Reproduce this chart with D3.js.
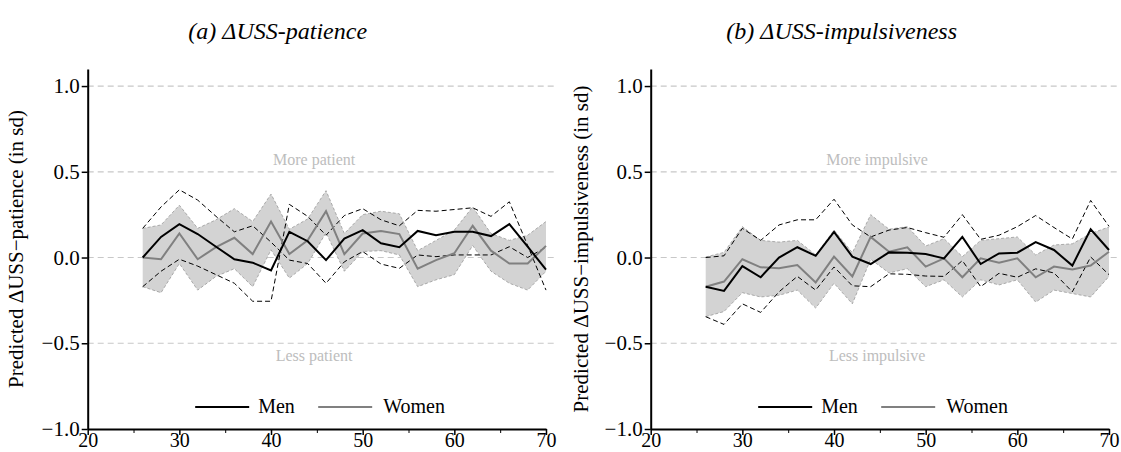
<!DOCTYPE html>
<html>
<head>
<meta charset="utf-8">
<script src="https://cdn.jsdelivr.net/npm/d3@7"></script>
<style>
  body { margin: 0; background: #fff; }
  svg text { font-family: "Liberation Serif", "DejaVu Serif", serif; }
</style>
</head>
<body>
<div id="plot"></div>
<script>
// values
const ages = [26, 28, 30, 32, 34, 36, 38, 40, 42, 44, 46, 48, 50, 52, 54, 56, 58, 60, 62, 64, 66, 68, 70];

// (a) patience
const patMen = [0.0, 0.12, 0.195, 0.137, 0.063, -0.01, -0.03, -0.075, 0.15, 0.095, -0.015, 0.11, 0.16, 0.083, 0.06, 0.155, 0.13, 0.15, 0.15, 0.125, 0.195, 0.063, -0.07];
// the two dashed bounds as they are drawn (they cross at 40-42 and 66-70)
const patMenCi1 = [0.17, 0.295, 0.395, 0.335, 0.24, 0.15, 0.185, 0.09, -0.015, -0.035, -0.15, -0.025, 0.035, -0.038, -0.063, 0.015, 0.005, 0.015, 0.015, 0.015, 0.063, 0.0, 0.06];
const patMenCi2 = [-0.17, -0.08, -0.01, -0.05, -0.1, -0.15, -0.255, -0.255, 0.31, 0.24, 0.13, 0.245, 0.285, 0.22, 0.185, 0.275, 0.27, 0.28, 0.29, 0.24, 0.325, 0.07, -0.19];
const patWomen = [0.0, -0.01, 0.14, -0.01, 0.06, 0.115, 0.02, 0.21, 0.02, 0.10, 0.27, 0.02, 0.14, 0.155, 0.137, -0.065, -0.015, 0.025, 0.185, 0.04, -0.035, -0.035, 0.068];
const patWomenHi = [0.17, 0.19, 0.305, 0.17, 0.22, 0.285, 0.21, 0.37, 0.165, 0.225, 0.39, 0.14, 0.25, 0.27, 0.255, 0.04, 0.10, 0.16, 0.295, 0.14, 0.10, 0.13, 0.21];
const patWomenLo = [-0.17, -0.205, -0.035, -0.19, -0.11, -0.065, -0.17, 0.045, -0.12, -0.035, 0.145, -0.08, 0.035, 0.04, 0.015, -0.17, -0.13, -0.10, 0.07, -0.08, -0.15, -0.19, -0.08];

// (b) impulsiveness
const impMen = [-0.17, -0.195, -0.05, -0.115, 0.0, 0.06, 0.01, 0.15, 0.005, -0.038, 0.03, 0.028, 0.02, -0.005, 0.12, -0.038, 0.024, 0.028, 0.09, 0.044, -0.047, 0.165, 0.044];
const impMenCi1 = [0.0, 0.01, 0.17, 0.10, 0.19, 0.22, 0.22, 0.34, 0.19, 0.12, 0.16, 0.175, 0.145, 0.118, 0.25, 0.106, 0.13, 0.18, 0.245, 0.175, 0.108, 0.333, 0.182];
const impMenCi2 = [-0.345, -0.39, -0.27, -0.32, -0.2, -0.11, -0.19, -0.055, -0.165, -0.17, -0.095, -0.098, -0.108, -0.11, -0.018, -0.17, -0.092, -0.115, -0.066, -0.09, -0.2, 0.003, -0.1];
const impWomen = [-0.17, -0.14, -0.01, -0.057, -0.063, -0.044, -0.145, 0.005, -0.11, 0.12, 0.034, 0.06, -0.053, -0.005, -0.115, -0.005, -0.03, -0.005, -0.115, -0.053, -0.07, -0.047, 0.034];
const impWomenHi = [0.003, 0.03, 0.18, 0.10, 0.09, 0.10, 0.015, 0.16, 0.028, 0.25, 0.165, 0.18, 0.067, 0.11, 0.005, 0.10, 0.11, 0.12, 0.015, 0.073, 0.08, 0.14, 0.178];
const impWomenLo = [-0.345, -0.315, -0.205, -0.23, -0.22, -0.19, -0.295, -0.15, -0.27, -0.01, -0.09, -0.065, -0.17, -0.13, -0.23, -0.13, -0.16, -0.13, -0.26, -0.19, -0.21, -0.23, -0.11];

const xTicks = [20, 30, 40, 50, 60, 70];
const xMinor = [25, 35, 45, 55, 65];
const yTicks = [-1.0, -0.5, 0.0, 0.5, 1.0];
const gridVals = [-0.5, 0.0, 0.5, 1.0];

const width = 1121, height = 452;

const svg = d3.select("#plot")
  .append("svg")
    .attr("width", width)
    .attr("height", height);

function drawPanel(left, p) {
  const x = d3.scaleLinear().domain([20, 70]).range([left, left + 458.3]);
  const y = d3.scaleLinear().domain([-1, 1.1]).range([429, 68.9]);
  const g = svg.append("g");

  // title
  g.append("text")
    .attr("x", left + p.titleDx)
    .attr("y", 39)
    .attr("text-anchor", "middle")
    .style("font-size", "24px")
    .style("font-style", "italic")
    .text(p.title);

  // gray dashed reference lines
  g.selectAll(".grid")
    .data(gridVals)
    .enter().append("line")
      .attr("x1", x(20)).attr("x2", x(71))
      .attr("y1", d => y(d)).attr("y2", d => y(d))
      .attr("stroke", "#c8c8c8")
      .attr("stroke-width", 1.2)
      .attr("stroke-dasharray", "6,4");

  g.append("text")
    .attr("x", x(44.7)).attr("y", y(0.5) - 7)
    .attr("text-anchor", "middle")
    .attr("fill", "#bdbdbd")
    .style("font-size", "16px")
    .text(p.more);
  g.append("text")
    .attr("x", x(44.7)).attr("y", y(-0.5) + 18)
    .attr("text-anchor", "middle")
    .attr("fill", "#bdbdbd")
    .style("font-size", "16px")
    .text(p.less);

  const rows = ages.map((a, i) => ({
    age: a, men: p.men[i], c1: p.ci1[i], c2: p.ci2[i],
    women: p.women[i], hi: p.hi[i], lo: p.lo[i]
  }));

  // women confidence band
  g.append("path")
    .datum(rows)
    .attr("fill", "#d3d3d3")
    .attr("d", d3.area().x(d => x(d.age)).y0(d => y(d.lo)).y1(d => y(d.hi)));
  ["hi", "lo"].forEach(k => {
    g.append("path")
      .datum(rows)
      .attr("fill", "none")
      .attr("stroke", "#999")
      .attr("stroke-width", 0.8)
      .attr("stroke-dasharray", "3,2")
      .attr("d", d3.line().x(d => x(d.age)).y(d => y(d[k])));
  });

  // men bounds
  ["c1", "c2"].forEach(k => {
    g.append("path")
      .datum(rows)
      .attr("fill", "none")
      .attr("stroke", "#000")
      .attr("stroke-width", 1)
      .attr("stroke-dasharray", "5,3")
      .attr("d", d3.line().x(d => x(d.age)).y(d => y(d[k])));
  });

  g.append("path")
    .datum(rows)
    .attr("fill", "none")
    .attr("stroke", "#808080")
    .attr("stroke-width", 2)
    .attr("d", d3.line().x(d => x(d.age)).y(d => y(d.women)));
  g.append("path")
    .datum(rows)
    .attr("fill", "none")
    .attr("stroke", "#000")
    .attr("stroke-width", 2)
    .attr("d", d3.line().x(d => x(d.age)).y(d => y(d.men)));

  // axes
  const yAxis = g.append("g")
    .attr("transform", "translate(" + x(20) + ",0)")
    .call(d3.axisLeft(y).tickValues(yTicks).tickFormat(d3.format(".1f")).tickSize(6).tickSizeOuter(0).tickPadding(2));
  const xAxis = g.append("g")
    .attr("transform", "translate(0," + y(-1) + ")")
    .call(d3.axisBottom(x).tickValues(xTicks).tickSize(6).tickSizeOuter(0).tickPadding(0));
  g.append("g")
    .attr("transform", "translate(0," + y(-1) + ")")
    .call(d3.axisBottom(x).tickValues(xMinor).tickSize(4).tickFormat("").tickSizeOuter(0))
    .select(".domain").remove();
  [yAxis, xAxis].forEach(a => {
    a.select(".domain").attr("stroke-width", 2);
    a.selectAll(".tick line").attr("stroke-width", 1.5);
    a.selectAll("text")
      .style("font-family", "'Liberation Serif', serif")
      .style("font-size", "21px")
      .attr("fill", "#000");
  });
  xAxis.selectAll("text").style("font-size", "20px").attr("dy", "0.62em");
  yAxis.selectAll("text").text(d => d3.format(".1f")(d).replace("-", "\u2212"));

  g.append("text")
    .attr("transform", "translate(" + (left + p.labelDx) + "," + y(0.05) + ") rotate(-90)")
    .attr("text-anchor", "middle")
    .style("font-size", "21px")
    .text(p.ylabel);

  // legend
  const lx = x(44.6) - 118;
  const ly = 407;
  g.append("line").attr("x1", lx).attr("x2", lx + 54).attr("y1", ly).attr("y2", ly)
    .attr("stroke", "#000").attr("stroke-width", 2);
  g.append("text").attr("x", lx + 63).attr("y", ly + 6).style("font-size", "20px").text("Men");
  g.append("line").attr("x1", lx + 123).attr("x2", lx + 177).attr("y1", ly).attr("y2", ly)
    .attr("stroke", "#808080").attr("stroke-width", 2);
  g.append("text").attr("x", lx + 188).attr("y", ly + 6).style("font-size", "20px").text("Women");
}

drawPanel(87.7, {
  title: "(a) \u0394USS-patience", titleDx: 190,
  ylabel: "Predicted \u0394USS\u2212patience (in sd)", labelDx: -65,
  more: "More patient", less: "Less patient",
  men: patMen, ci1: patMenCi1, ci2: patMenCi2,
  women: patWomen, hi: patWomenHi, lo: patWomenLo
});
drawPanel(650.7, {
  title: "(b) \u0394USS-impulsiveness", titleDx: 191,
  ylabel: "Predicted \u0394USS\u2212impulsiveness (in sd)", labelDx: -63,
  more: "More impulsive", less: "Less impulsive",
  men: impMen, ci1: impMenCi1, ci2: impMenCi2,
  women: impWomen, hi: impWomenHi, lo: impWomenLo
});
</script>
</body>
</html>
